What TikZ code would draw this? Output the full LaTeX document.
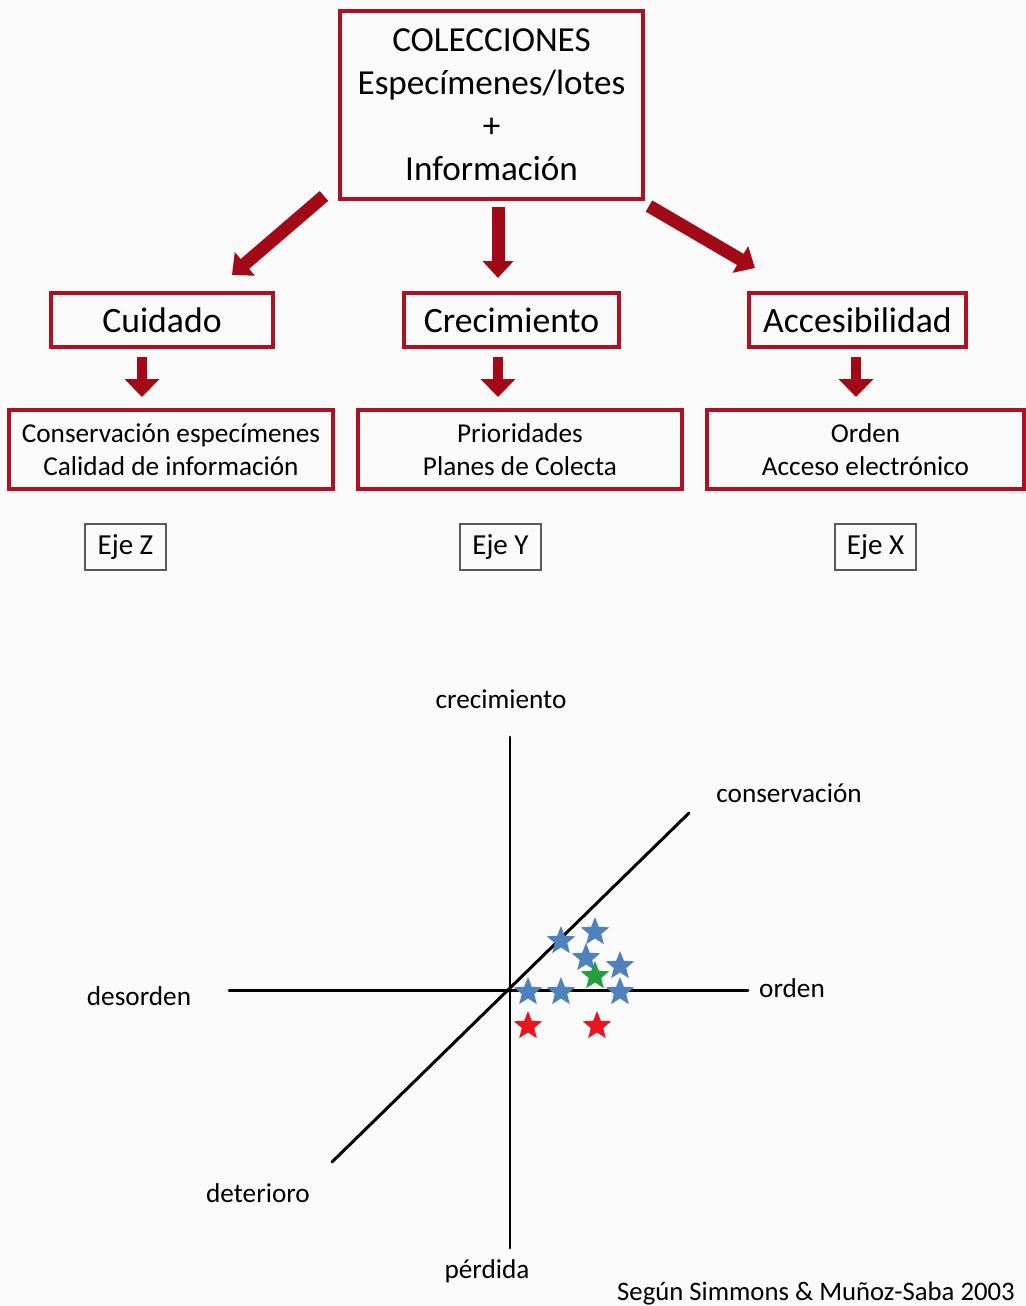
\documentclass[tikz,border=0pt]{standalone}
\usepackage{fontspec}
\setmainfont{Carlito}
\usetikzlibrary{arrows.meta,shapes.geometric}

\definecolor{boxred}{RGB}{172,18,34}
\definecolor{arrowred}{RGB}{162,10,24}
\definecolor{starblue}{RGB}{79,129,189}
\definecolor{stargreen}{RGB}{38,158,62}
\definecolor{starred}{RGB}{232,22,32}

\begin{document}
\begin{tikzpicture}[x=0.02cm, y=-0.02cm,
    redbox/.style={draw=boxred, line width=2pt, align=center, inner sep=0pt},
    ejebox/.style={draw=black!65, line width=0.9pt, minimum width=1.62cm, minimum height=0.92cm, inner sep=0pt, font=\fontsize{16.5}{19}\selectfont},
    bigarrow/.style={arrowred, line width=0.26cm, -{Triangle[length=0.34cm, width=0.6cm]}},
    smallarrow/.style={arrowred, line width=0.19cm, -{Triangle[length=0.36cm, width=0.68cm]}},
    axis/.style={black, line width=1.7pt, line cap=round},
    axislabel/.style={font=\fontsize{15.5}{18.6}\selectfont},
    stard/.style={star, star points=5, star point ratio=2.3, inner sep=0pt, minimum size=0.6cm}]

    % page
    \fill[white!98!black] (0,0) rectangle (1026,1306);
    \useasboundingbox (0,0) rectangle (1026,1306);

    % main box
    \node[redbox, minimum width=6.06cm, minimum height=3.76cm, font=\fontsize{20}{24.4}\selectfont] (col) at (491.5,105)
        {COLECCIONES\\Especímenes/lotes\\+\\Información};

    % second row
    \node[redbox, minimum width=4.44cm, minimum height=1.08cm, font=\fontsize{20.3}{24}\selectfont] (cuid) at (162,320) {Cuidado};
    \node[redbox, minimum width=4.30cm, minimum height=1.08cm, font=\fontsize{20.3}{24}\selectfont] (crec) at (511.5,320) {Crecimiento};
    \node[redbox, minimum width=4.34cm, minimum height=1.08cm, font=\fontsize{20.3}{24}\selectfont] (acce) at (857.5,320) {Accesibilidad};

    % third row
    \node[redbox, minimum width=6.48cm, minimum height=1.58cm, font=\fontsize{15.5}{18.7}\selectfont] (cons) at (171,449.5)
        {Conservación especímenes\\Calidad de información};
    \node[redbox, minimum width=6.48cm, minimum height=1.58cm, font=\fontsize{15.5}{18.7}\selectfont] (prio) at (520,449.5)
        {Prioridades\\Planes de Colecta};
    \node[redbox, minimum width=6.34cm, minimum height=1.58cm, font=\fontsize{15.5}{18.7}\selectfont] (orde) at (865.5,449.5)
        {Orden\\Acceso electrónico};

    % axis boxes
    \node[ejebox] (ejez) at (125.5,547) {Eje Z};
    \node[ejebox] (ejey) at (500.5,547) {Eje Y};
    \node[ejebox] (ejex) at (875.5,547) {Eje X};

    % arrow ends
    \coordinate (a1s) at (324,196);
    \coordinate (a1e) at (232,275);
    \coordinate (a2s) at (498,207);
    \coordinate (a2e) at (498,278);
    \coordinate (a3s) at (649,206);
    \coordinate (a3e) at (755,268);
    \coordinate (b1s) at (142,357);
    \coordinate (b1e) at (142,397);
    \coordinate (b2s) at (498,357);
    \coordinate (b2e) at (498,397);
    \coordinate (b3s) at (856,357);
    \coordinate (b3e) at (856,397);

    % big arrows
    \draw[bigarrow] (a1s) -- (a1e);
    \draw[bigarrow] (a2s) -- (a2e);
    \draw[bigarrow] (a3s) -- (a3e);

    % small arrows
    \draw[smallarrow] (b1s) -- (b1e);
    \draw[smallarrow] (b2s) -- (b2e);
    \draw[smallarrow] (b3s) -- (b3e);

    % axes
    \coordinate (top) at (510,737);
    \coordinate (bot) at (510,1248);
    \coordinate (lft) at (229,990);
    \coordinate (rgt) at (748,990);
    \coordinate (dlo) at (332,1162);
    \coordinate (dhi) at (689,813);
    \draw[axis] (top) -- (bot);
    \draw[axis] (lft) -- (rgt);
    \draw[axis] (dlo) -- (dhi);

    % axis labels
    \node[axislabel] (lcre) at (501,699) {crecimiento};
    \node[axislabel] (lcon) at (789,793) {conservación};
    \node[axislabel] (ldes) at (139,996) {desorden};
    \node[axislabel] (lord) at (792,988) {orden};
    \node[axislabel] (ldet) at (258,1193) {deterioro};
    \node[axislabel] (lper) at (487,1271) {pérdida};

    % stars
    \node[stard, fill=starblue] (s1) at (561,941) {};
    \node[stard, fill=starblue] (s2) at (595,932) {};
    \node[stard, fill=starblue] (s3) at (586,958) {};
    \node[stard, fill=starblue] (s4) at (620,966) {};
    \node[stard, fill=starblue] (s5) at (528,992) {};
    \node[stard, fill=starblue] (s6) at (561,992) {};
    \node[stard, fill=starblue] (s7) at (620,992) {};
    \node[stard, fill=stargreen] (s8) at (595,976) {};
    \node[stard, fill=starred] (s9) at (528,1026) {};
    \node[stard, fill=starred] (s10) at (597,1026) {};

    % source
    \node[anchor=east, font=\fontsize{15.2}{18}\selectfont] (src) at (1021,1294) {Según Simmons \& Muñoz-Saba 2003};
\end{tikzpicture}
\end{document}
